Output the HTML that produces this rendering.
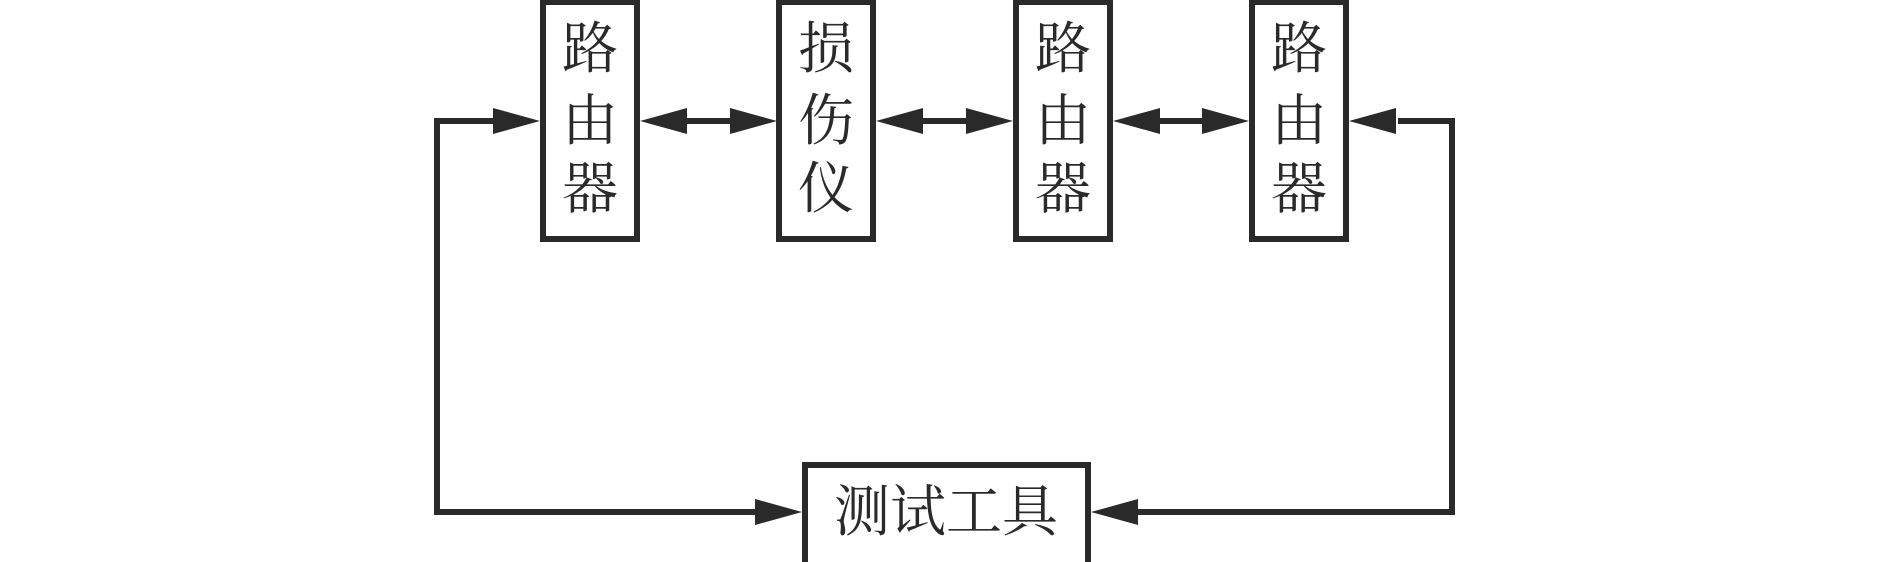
<!DOCTYPE html>
<html><head><meta charset="utf-8"><style>
html,body{margin:0;padding:0;background:#fff;}
svg{display:block;}
text{font-family:"Liberation Serif","Noto Serif CJK SC",serif;fill:#2a2a2a;}
</style></head><body>
<svg width="1890" height="562" viewBox="0 0 1890 562" xmlns="http://www.w3.org/2000/svg">
<g fill="none" stroke="#2a2a2a" stroke-width="6">
<rect x="543" y="2" width="94" height="237"/>
<rect x="779" y="2" width="94" height="237"/>
<rect x="1016" y="2" width="94" height="237"/>
<rect x="1252" y="2" width="94" height="237"/>
<rect x="805" y="465" width="283" height="100"/>
<polyline points="493,121 437,121 437,512 756,512"/>
<polyline points="1398,121 1452,121 1452,512 1138,512"/>
<line x1="686" y1="121" x2="731" y2="121"/>
<line x1="922" y1="121" x2="968" y2="121"/>
<line x1="1159" y1="121" x2="1204" y2="121"/>
</g>
<g fill="#2a2a2a">
<polygon points="540,121 493,108 493,134"/>
<polygon points="640,121 687,108 687,134"/>
<polygon points="777,121 730,108 730,134"/>
<polygon points="876,121 923,108 923,134"/>
<polygon points="1013,121 966,108 966,134"/>
<polygon points="1113,121 1160,108 1160,134"/>
<polygon points="1249,121 1202,108 1202,134"/>
<polygon points="1349,121 1396,108 1396,134"/>
<polygon points="802,512 755,499 755,525"/>
<polygon points="1091,512 1138,499 1138,525"/>
</g>
<g font-size="56" text-anchor="middle">
<text x="590" y="68">路</text><text x="590" y="140">由</text><text x="590" y="208">器</text>
<text x="826" y="68">损</text><text x="826" y="140">伤</text><text x="826" y="208">仪</text>
<text x="1063" y="68">路</text><text x="1063" y="140">由</text><text x="1063" y="208">器</text>
<text x="1299" y="68">路</text><text x="1299" y="140">由</text><text x="1299" y="208">器</text>
</g>
<text x="946" y="531" font-size="56" text-anchor="middle">测试工具</text>
</svg>
</body></html>
